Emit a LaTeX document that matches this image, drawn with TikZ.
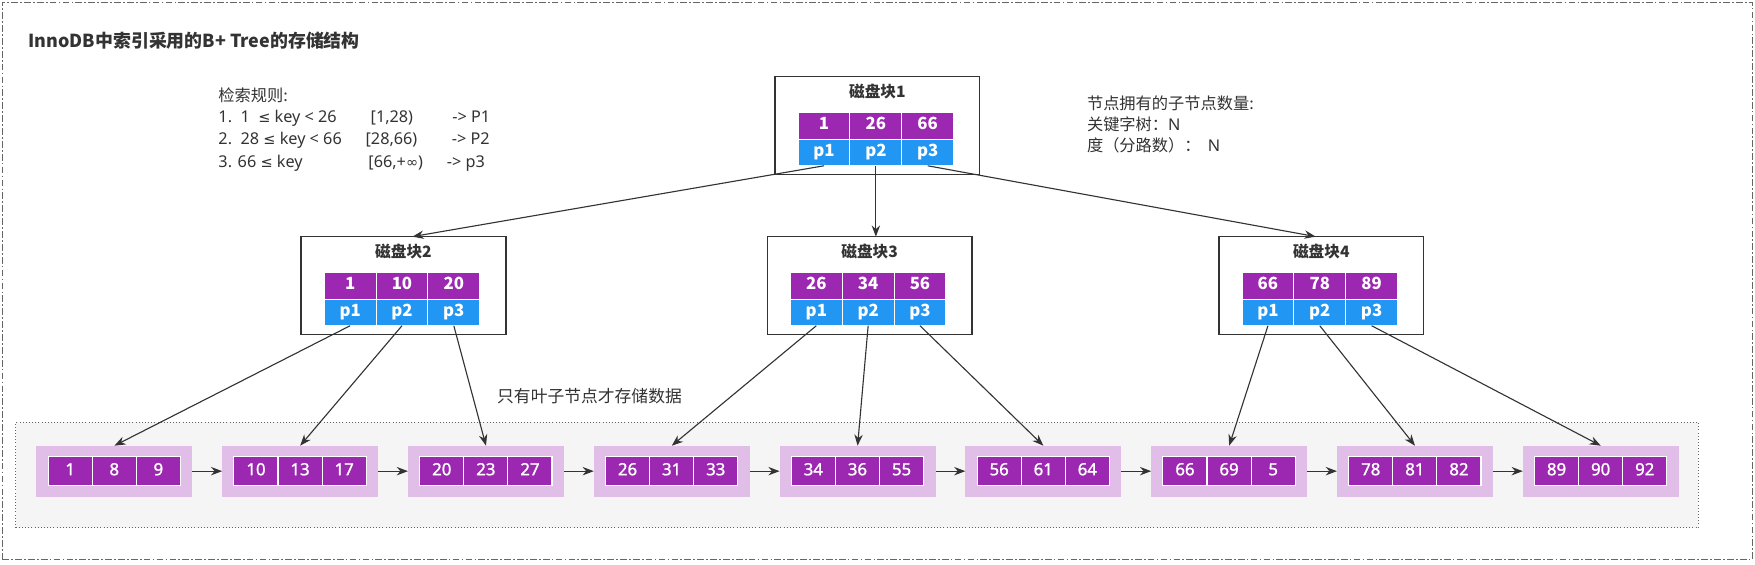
\documentclass[tikz,border=0pt]{standalone}
\usepackage{fontspec}
\setmainfont{Noto Sans CJK SC}
\newfontfamily\lat{Noto Sans}
\newfontfamily\latm{Noto Sans}[FakeBold=1.2]
\newfontfamily\sym{DejaVu Sans}
\usetikzlibrary{arrows.meta,calc}
\definecolor{kpurple}{HTML}{9C27B0}
\definecolor{kblue}{HTML}{2196F3}
\definecolor{lpurple}{HTML}{E1BEE7}
\definecolor{regfill}{HTML}{F5F5F5}
\definecolor{ink}{HTML}{333333}
\definecolor{bordergray}{HTML}{666666}
\newcommand\FS[1]{\fontsize{#1}{#1}\selectfont}
\newcommand\LE{{\sym\fontsize{13}{13}\selectfont ≤}}
\newcommand\INF{{\sym\fontsize{13}{13}\selectfont ∞}}
\newcommand\TreeNode[7]{%
  \node[treebox, anchor=north west] (#1) at (#2,#3) {};
  \node[boxtitle] (#1t) at ({#2+91.5},{#3+13}) {#4};
  \node[keycell] (#1k1) at ({#2+20.7+23.15},{#3+32+11.9}) {#5};
  \node[keycell] (#1k2) at ({#2+20.7+69.45},{#3+32+11.9}) {#6};
  \node[keycell] (#1k3) at ({#2+20.7+115.75},{#3+32+11.9}) {#7};
  \node[ptrcell] (#1p1) at ({#2+20.7+23.15},{#3+32+35.7}) {p1};
  \node[ptrcell] (#1p2) at ({#2+20.7+69.45},{#3+32+35.7}) {p2};
  \node[ptrcell] (#1p3) at ({#2+20.7+115.75},{#3+32+35.7}) {p3};
}
\begin{document}
\begin{tikzpicture}[x=1pt,y=-1pt,
  treebox/.style={draw=ink, line width=1.1pt, fill=white, minimum width=183pt, minimum height=87.5pt, inner sep=0, outer sep=0},
  boxtitle/.style={inner sep=0, text=ink, font=\bfseries\FS{14}},
  cellbase/.style={draw=white, line width=0.9pt, minimum width=46.3pt, minimum height=23.8pt, inner sep=0, outer sep=0, text=white, font=\bfseries\FS{15}, text height=0.72em, text depth=0pt},
  keycell/.style={cellbase, fill=kpurple},
  ptrcell/.style={cellbase, fill=kblue},
  leafbox/.style={fill=lpurple, minimum width=139.4pt, minimum height=45.5pt, inner sep=0, outer sep=0},
  leafcell/.style={fill=kpurple, draw=white, line width=1pt, minimum width=39.4pt, minimum height=26.2pt, inner sep=0, outer sep=0, text=white, font=\latm\FS{15}, text height=0.72em, text depth=0pt},
  arr/.style={draw=ink, line width=1pt, -{Stealth[length=10pt,width=7.5pt]}},
  plain/.style={anchor=west, inner sep=0, text=ink, font=\FS{14.5}}
]
\useasboundingbox (0,0) rectangle (1568,504);
\fill[white] (0,0) rectangle (1568,504);
% outer frame
\node[draw=bordergray, line width=0.9pt, dash pattern=on 6pt off 2pt on 1.5pt off 2pt, minimum width=1563.5pt, minimum height=498pt, inner sep=0, anchor=north west] (frame) at (1.5,1.5) {};
% title
\node[anchor=west, inner sep=0, text=ink, font=\bfseries\FS{16}] (title) at (25.3,36.5) {InnoDB中索引采用的B+ Tree的存储结构};
% rules text
\node[plain] (r0) at (195,84.9) {检索规则:};
\node[plain, font=\lat\FS{14.5}] (r1) at (195,105.3) {\makebox[136pt][l]{1.\ \ 1\ \ \LE{} key < 26}\makebox[73pt][l]{[1,28)}-> P1};
\node[plain, font=\lat\FS{14.5}] (r2) at (195,125.5) {\makebox[131.5pt][l]{2.\ \ 28 \LE{} key < 66}\makebox[77pt][l]{[28,66)}-> P2};
\node[plain, font=\lat\FS{14.5}] (r3) at (195,145.5) {\makebox[134pt][l]{3. 66 \LE{} key}\makebox[70pt][l]{[66,+\INF)}-> p3};
% degree text
\node[plain] (d0) at (971,92.3) {节点拥有的子节点数量:};
\node[plain] (d1) at (971,111) {关键字树：{\lat N}};
\node[plain] (d2) at (971,130) {度（分路数）：\ \ {\lat N}};
% leaf note
\node[anchor=west, inner sep=0, text=ink, font=\FS{15}] (note) at (444,353.8) {只有叶子节点才存储数据};
% leaf region
\node[draw=bordergray, fill=regfill, dotted, line width=0.8pt, minimum width=1503.3pt, minimum height=94.4pt, inner sep=0, anchor=north west] (leafarea) at (13.7,376.7) {};
% tree nodes
\TreeNode{r}{692.4}{68.5}{磁盘块1}{1}{26}{66}
\TreeNode{b2}{269}{211.4}{磁盘块2}{1}{10}{20}
\TreeNode{b3}{685.5}{211.4}{磁盘块3}{26}{34}{56}
\TreeNode{b4}{1089}{211.4}{磁盘块4}{66}{78}{89}
% leaves
\foreach \a/\b/\c [count=\i] in {1/8/9, 10/13/17, 20/23/27, 26/31/33, 34/36/55, 56/61/64, 66/69/5, 78/81/82, 89/90/92} {
  \pgfmathsetmacro\lx{32.5+166*(\i-1)}
  \node[leafbox, anchor=north west] (leaf\i) at (\lx,398.2) {};
  \node[leafcell] (leaf\i a) at ({\lx+10.5+19.7},421) {\a};
  \node[leafcell] (leaf\i b) at ({\lx+10.5+59.1},421) {\b};
  \node[leafcell] (leaf\i c) at ({\lx+10.5+98.5},421) {\c};
}
\foreach \i [evaluate=\i as \j using int(\i+1)] in {1,...,8} {
  \draw[arr] (leaf\i.east) -- (leaf\j.west);
}
% root to level 2
\draw[arr] (rp1.south) -- ([xshift=8pt]b2.north);
\draw[arr] (rp2.south) -- (rp2.south |- b3.north);
\draw[arr] (rp3.south) -- ([xshift=-5pt]b4.north);
% level 2 to leaves
\draw[arr] (b2p1.south) -- (leaf1.north);
\draw[arr] (b2p2.south) -- (leaf2.north);
\draw[arr] (b2p3.south) -- (leaf3.north);
\draw[arr] (b3p1.south) -- (leaf4.north);
\draw[arr] (b3p2.south) -- (leaf5.north);
\draw[arr] (b3p3.south) -- (leaf6.north);
\draw[arr] (b4p1.south) -- (leaf7.north);
\draw[arr] (b4p2.south) -- (leaf8.north);
\draw[arr] (b4p3.south) -- (leaf9.north);
\end{tikzpicture}
\end{document}
